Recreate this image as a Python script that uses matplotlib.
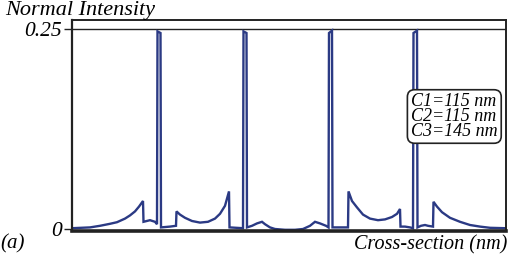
import matplotlib
matplotlib.use("Agg")
import matplotlib.pyplot as plt

# Cross-section position (arbitrary units) and normalised intensity
position = [0, 18, 28, 38, 45, 53, 58, 63, 67, 71, 71.5, 78, 83, 85, 85.5, 88.5, 89, 98, 104, 104.5,
            108, 113, 120, 128, 136, 143, 148, 153, 157, 157.5, 171, 171.5, 174.5, 175, 180, 185, 190, 193,
            198, 203, 213, 223, 231, 238, 243, 248, 254, 256.5, 257, 260, 260.5, 276, 276.5, 280, 285, 291,
            298, 306, 313, 320, 325, 328, 328.5, 333, 338, 341, 341.5, 345, 345.5, 349, 353, 356, 361, 361.5,
            365, 370, 378, 388, 398, 408, 418, 433]
intensity = [0.001, 0.002, 0.004, 0.0065, 0.0085, 0.013, 0.017, 0.022, 0.028, 0.035, 0.009, 0.011, 0.009,
             0.006, 0.247, 0.245, 0.002, 0.003, 0.004, 0.022,
             0.018, 0.014, 0.010, 0.008, 0.009, 0.013, 0.019, 0.029, 0.047, 0.002, 0.001, 0.247, 0.245,
             0.002, 0.004, 0.007, 0.009, 0.006,
             0.002, 0.0, -0.001, -0.001, 0.0, 0.004, 0.009, 0.007, 0.004, 0.002, 0.245, 0.248, 0.002, 0.002,
             0.047, 0.035, 0.027, 0.018,
             0.013, 0.011, 0.012, 0.015, 0.019, 0.025, 0.003, 0.003, 0.002, 0.001, 0.245, 0.248, 0.002,
             0.004, 0.005, 0.004, 0.003, 0.034,
             0.028, 0.021, 0.014, 0.009, 0.005, 0.003, 0.0015, 0.001]

y_ticks = [0, 0.25]
y_tick_labels = ["0", "0.25"]
legend_lines = ["C1=115 nm", "C2=115 nm", "C3=145 nm"]

serif = ["Liberation Serif", "DejaVu Serif"]
line_color = "#2b3a84"

fig = plt.figure(figsize=(5.08, 2.59), dpi=100)
W, H = 508, 259
left, right, top, bottom = 72, 506, 20, 231
ax = fig.add_axes([left / W, 1 - bottom / H, (right - left) / W, (bottom - top) / H])

ax.plot(position, intensity, color=line_color, lw=1.7, solid_joinstyle="miter")
ax.set_xlim(0, 434)
ax.set_ylim(-0.0025, 0.26125)
ax.axhline(0.25, color="#222222", lw=1.0, zorder=1)

ax.set_xticks([])
ax.set_yticks(y_ticks)
ax.set_yticklabels(y_tick_labels, fontfamily=serif, fontstyle="italic", fontsize=15.5)
ax.tick_params(axis="y", direction="out", length=6, width=1.0, pad=1, color="#222222")

for side, w in [("left", 1.6), ("right", 1.4), ("top", 1.4), ("bottom", 2.6)]:
    ax.spines[side].set_linewidth(w)
    ax.spines[side].set_color("#222222")

ax.text((411 - left) / (right - left), 1 - (116.5 - top) / (bottom - top), "\n".join(legend_lines),
        transform=ax.transAxes,
        fontfamily=serif, fontstyle="italic", fontsize=13, linespacing=0.82,
        ha="left", va="center",
        bbox=dict(boxstyle="round,pad=0.2,rounding_size=0.4", fc="white", ec="#222222", lw=1.2))

fig.text(5 / W, 1 - 10 / H, "Normal Intensity", fontfamily=serif, fontstyle="italic", fontsize=16,
         ha="left", va="center")
fig.text(507 / W, 1 - 245 / H, "Cross-section (nm)", fontfamily=serif, fontstyle="italic", fontsize=14.5,
         ha="right", va="center")
fig.text(0 / W, 1 - 244 / H, "(a)", fontfamily=serif, fontstyle="italic", fontsize=15,
         ha="left", va="center")

fig.savefig("out.png", dpi=100)
